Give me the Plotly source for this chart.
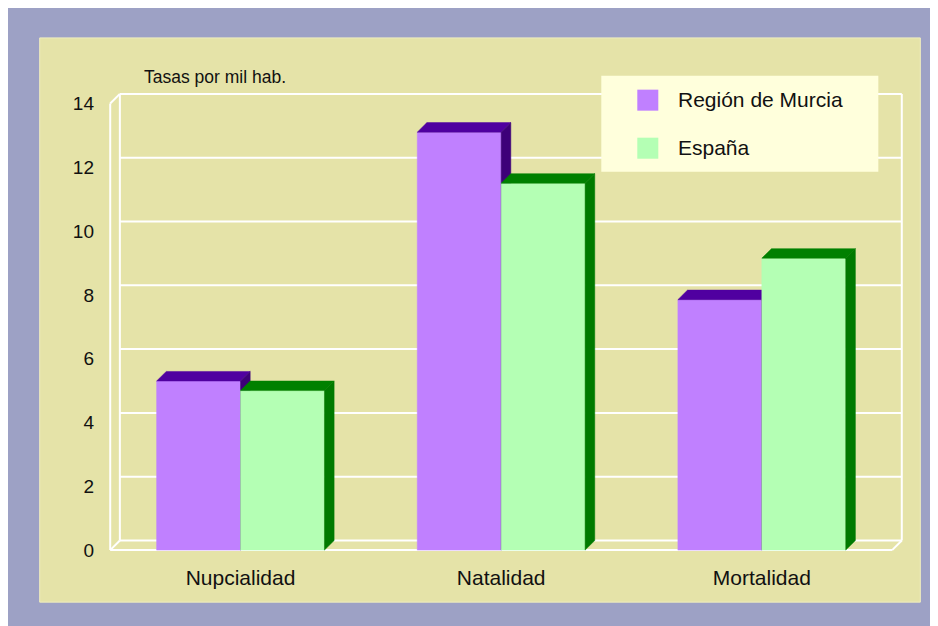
import plotly.graph_objects as go

# ---------------- data ----------------
categories = ["Nupcialidad", "Natalidad", "Mortalidad"]
series_names = ["Región de Murcia", "España"]
murcia = [5.3, 13.1, 7.85]
espana = [5.0, 11.5, 9.15]
y_ticks = [0, 2, 4, 6, 8, 10, 12, 14]
y_note = "Tasas por mil hab."

# ---------------- style ----------------
FONT = "Liberation Sans, Arial, sans-serif"
BLUE = "#9DA1C5"
KHAKI = "#E5E3A8"
LEGEND_BG = "#FFFFDC"
FACE = [("#C080FF", "#5000A0", "#3D0079"), ("#B4FFB4", "#008000", "#007A00")]

OFF = 8                         # page body margin
W, H = 938 - OFF, 626 - OFF
SX, SY = 260.6, 31.87           # px per x unit / y unit
X0PX, Y0PX = 110, 550           # page pixel of x=-0.5 / y=0 (front)
DX, DY = 0.037, 0.30            # 3D depth in data units
BAR_W = 0.322
XMIN = -0.5
XMAX = len(categories) - 0.5 + DX
YTOP = max(y_ticks)
XR = [XMIN - 0.02, XMAX + 0.02]
YR = [-0.06, YTOP + DY + 0.06]


def px(x):
    return X0PX + (x - XMIN) * SX


def py(y):
    return Y0PX - y * SY


ML = px(XR[0]) - OFF
MR = W - (px(XR[1]) - OFF)
MT = py(YR[1]) - OFF
MB = H - (py(YR[0]) - OFF)
PW = W - ML - MR
PH = H - MT - MB


def pxp(p):  # page pixel -> paper x
    return (p - OFF - ML) / PW


def pyp(p):  # page pixel -> paper y
    return (H - MB - (p - OFF)) / PH


fig = go.Figure()


def poly(xs, ys, color):
    fig.add_trace(go.Scatter(x=xs + [xs[0]], y=ys + [ys[0]], mode="lines", fill="toself",
                             fillcolor=color, line=dict(color=color, width=0.5),
                             hoverinfo="skip", showlegend=False))


series = [murcia, espana]
for i, cat in enumerate(categories):
    for s, vals in enumerate(series):
        v = vals[i]
        x0 = i - BAR_W + s * BAR_W
        x1 = x0 + BAR_W
        front, top, side = FACE[s]
        poly([x0, x1, x1, x0], [0, 0, v, v], front)
        poly([x0, x0 + DX, x1 + DX, x1], [v, v + DY, v + DY, v], top)
        poly([x1, x1 + DX, x1 + DX, x1], [0, DY, v + DY, v], side)

shapes = []
shapes.append(dict(type="rect", xref="paper", yref="paper", x0=pxp(39.5), x1=pxp(920),
                   y0=pyp(602), y1=pyp(38.3), fillcolor=KHAKI,
                   line=dict(width=1, color="#EFEDC0"), layer="below"))


def wline(xa, ya, xb, yb):
    shapes.append(dict(type="line", xref="x", yref="y", x0=xa, y0=ya, x1=xb, y1=yb,
                       line=dict(color="white", width=2), layer="below"))


for t in y_ticks:
    wline(XMIN + DX, t + DY, XMAX, t + DY)
wline(XMIN, 0, XMIN, YTOP)
wline(XMIN + DX, DY, XMIN + DX, YTOP + DY)
wline(XMIN, 0, XMIN + DX, DY)
wline(XMIN, YTOP, XMIN + DX, YTOP + DY)
wline(XMIN, 0, XMAX - DX, 0)
wline(XMAX - DX, 0, XMAX, DY)
wline(XMAX, DY, XMAX, YTOP + DY)

# legend box
shapes.append(dict(type="rect", xref="paper", yref="paper", x0=pxp(601), x1=pxp(878),
                   y0=pyp(172), y1=pyp(76), fillcolor=LEGEND_BG, line=dict(width=0), layer="above"))
annotations = []
for k, name in enumerate(series_names):
    cy = 100.5 + k * 48
    shapes.append(dict(type="rect", xref="paper", yref="paper", x0=pxp(637), x1=pxp(658),
                       y0=pyp(cy + 10.5), y1=pyp(cy - 10.5), fillcolor=FACE[k][0],
                       line=dict(width=0), layer="above"))
    annotations.append(dict(xref="paper", yref="paper", x=pxp(676), y=pyp(cy - 1), text=name,
                            showarrow=False, xanchor="left", yanchor="middle",
                            font=dict(family=FONT, size=21, color="#111111")))

annotations.append(dict(xref="paper", yref="paper", x=pxp(142), y=pyp(77), text=y_note,
                        showarrow=False, xanchor="left", yanchor="middle",
                        font=dict(family=FONT, size=17.5, color="#111111")))

fig.update_layout(
    width=W, height=H, autosize=False,
    margin=dict(l=ML, r=MR, t=MT, b=MB, pad=0),
    paper_bgcolor=BLUE, plot_bgcolor=KHAKI,
    showlegend=False, shapes=shapes, annotations=annotations,
    font=dict(family=FONT, color="#111111"),
    xaxis=dict(range=XR, showgrid=False, zeroline=False, showline=False,
               tickmode="array", tickvals=list(range(len(categories))), ticktext=categories,
               tickfont=dict(size=21, family=FONT, color="#111111"), ticks="",
               ticklabelstandoff=11, fixedrange=True),
    yaxis=dict(range=YR, showgrid=False, zeroline=False, showline=False,
               tickmode="array", tickvals=y_ticks, ticktext=[str(t) for t in y_ticks],
               tickfont=dict(size=19, family=FONT, color="#111111"), ticks="",
               ticklabelstandoff=10, fixedrange=True),
)

fig.write_html("out.html", config={"displayModeBar": False})
